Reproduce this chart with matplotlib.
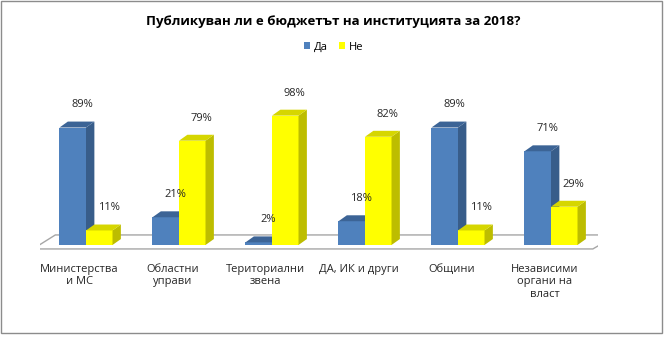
import numpy as np
import matplotlib
matplotlib.use("Agg")
import matplotlib.pyplot as plt
from matplotlib.patches import Polygon, Rectangle

categories = ["Министерства\nи МС", "Областни\nуправи", "Териториални\nзвена",
              "ДА, ИК и други", "Общини", "Независими\nоргани на\nвласт"]
da = [89, 21, 2, 18, 89, 71]
ne = [11, 79, 98, 82, 11, 29]
series_names = ["Да", "Не"]
title = "Публикуван ли е бюджетът на институцията за 2018?"

plt.rcParams['font.family'] = ['Open Sans', 'DejaVu Sans']

# front / side / top shades
blue = ("#4F81BD", "#385D8A", "#3C6496")
yellow = ("#FFFF00", "#BDBD00", "#D6D600")

fig = plt.figure(figsize=(6.67, 3.53), dpi=100)
ax = fig.add_axes([39.5 / 667, 0.2686, 558 / 667, 0.4487])
ax.set_xlim(-0.5, 5.5)
ax.set_ylim(-10, 110)
ax.axis("off")

w = 0.285      # bar width in category units
ddx = 0.09     # depth offset x
ddy = 4.5      # depth offset y (percent units)

# floor
floor = Polygon([(-0.57, -3), (5.45, -3), (5.71, 7.6), (-0.33, 7.6)], closed=True,
                facecolor="white", edgecolor="#A6A6A6", lw=1.0, zorder=1)
ax.add_patch(floor)


def bar3d(x0, h, cols):
    front, side, top = cols
    ax.add_patch(Rectangle((x0, 0), w, h, facecolor=front, edgecolor="none", zorder=3))
    ax.add_patch(Polygon([(x0 + w, 0), (x0 + w + ddx, ddy), (x0 + w + ddx, h + ddy), (x0 + w, h)],
                         closed=True, facecolor=side, edgecolor="none", zorder=3))
    ax.add_patch(Polygon([(x0, h), (x0 + ddx, h + ddy), (x0 + w + ddx, h + ddy), (x0 + w, h)],
                         closed=True, facecolor=top, edgecolor="none", zorder=3))


x = np.arange(len(categories))
for i in x:
    bar3d(i - w, da[i], blue)
    bar3d(i, ne[i], yellow)
    ax.annotate(f"{da[i]}%", (i - w / 2 + 0.1, da[i] + ddy), xytext=(0, 8),
                textcoords="offset points", ha="center", va="bottom", fontsize=8,
                color="#262626", annotation_clip=False)
    ax.annotate(f"{ne[i]}%", (i + w / 2 + 0.1, ne[i] + ddy), xytext=(0, 8),
                textcoords="offset points", ha="center", va="bottom", fontsize=8,
                color="#262626", annotation_clip=False)
    ax.annotate(categories[i], (i - 0.07, -3), xytext=(0, -11), textcoords="offset points",
                ha="center", va="top", fontsize=8, color="#262626", linespacing=1.15,
                annotation_clip=False)

fig.text(0.5, 1 - 21 / 353, title, ha="center", va="center", fontsize=9.5,
         fontweight="bold", color="black")

# legend
handles = [Rectangle((0, 0), 1, 1, facecolor=blue[0]), Rectangle((0, 0), 1, 1, facecolor=yellow[0])]
fig.legend(handles, series_names, loc="center", bbox_to_anchor=(0.5, 1 - 47 / 353), ncol=2,
           frameon=False, fontsize=8, handlelength=0.6, handleheight=0.6,
           handletextpad=0.3, columnspacing=1.0)

# outer border
fig.patches.append(Rectangle((1 / 667, 1 - 333 / 353), 661 / 667, 332 / 353,
                             transform=fig.transFigure, fill=False, edgecolor="#8C8C8C", lw=1.0))

fig.savefig("out.png", dpi=100)
